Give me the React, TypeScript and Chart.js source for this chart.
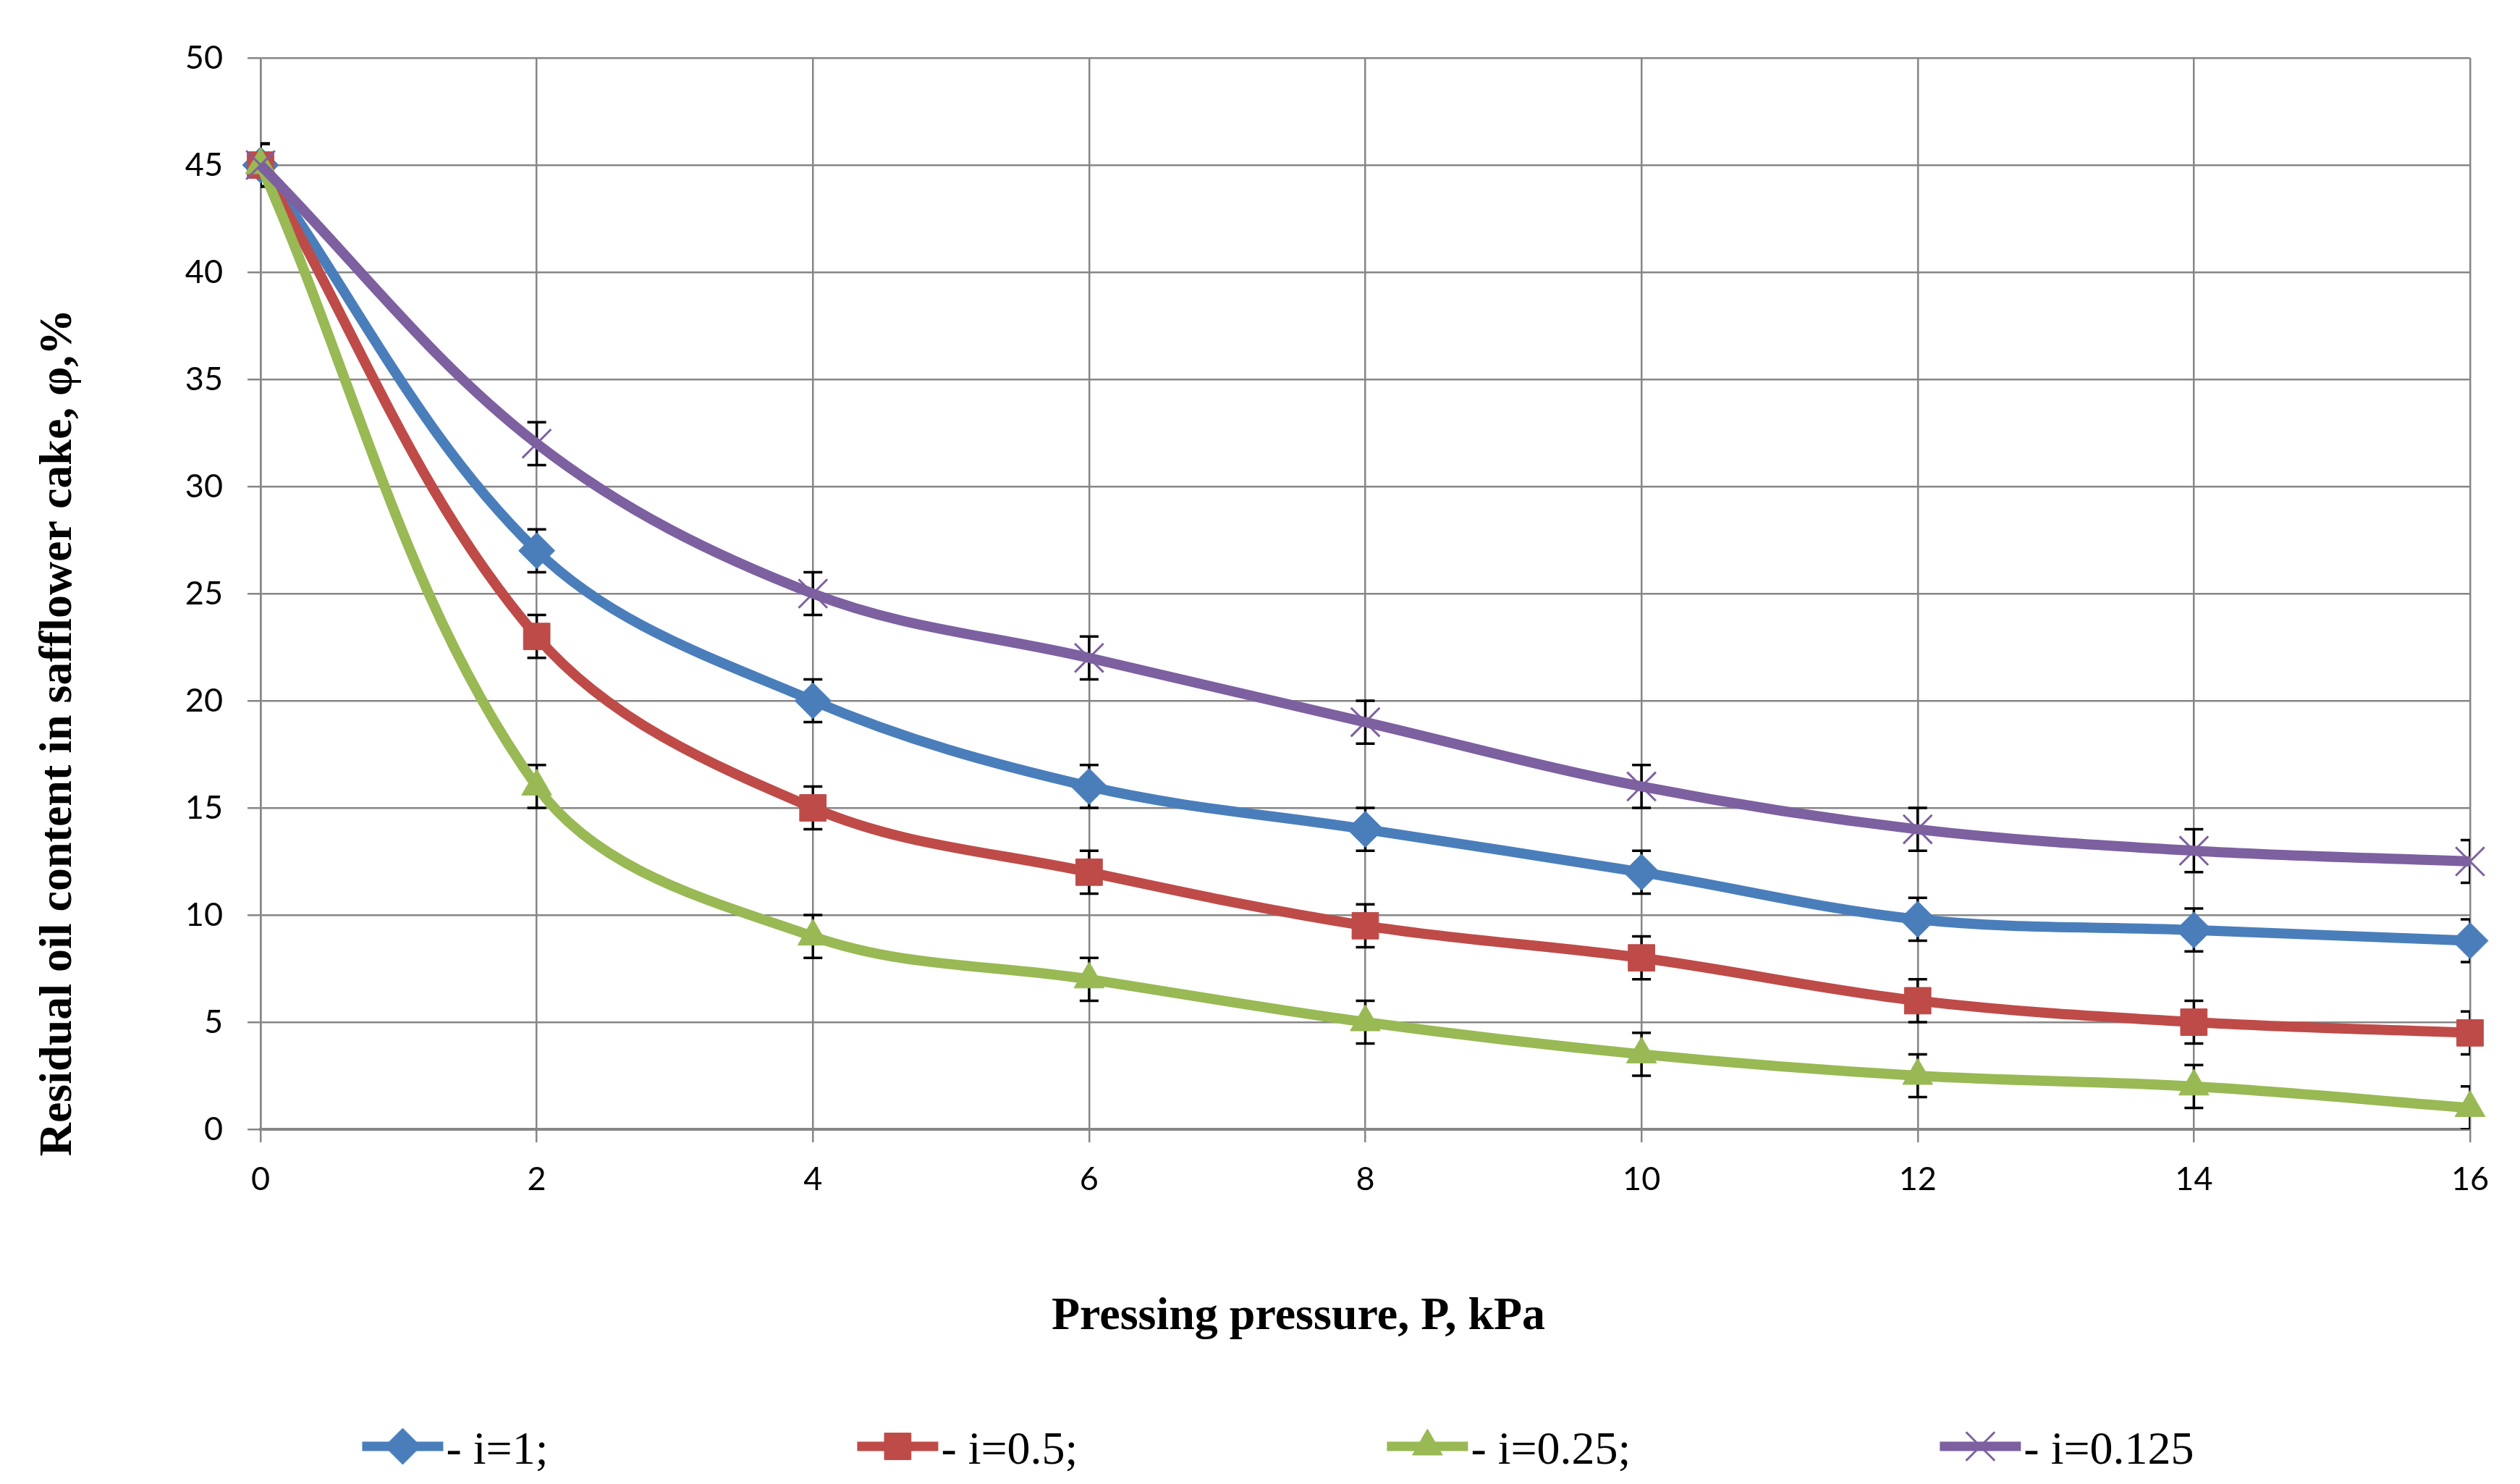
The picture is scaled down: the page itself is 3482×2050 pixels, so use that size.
import React, { useEffect, useRef } from 'react';
import { Chart, registerables } from 'chart.js';
import { drawPoint } from 'chart.js/helpers';

Chart.register(...registerables);

// pressing pressure, kPa
const pressure = [0, 2, 4, 6, 8, 10, 12, 14, 16];

// residual oil content, %
const oilI1 = [45, 27, 20, 16, 14, 12, 9.8, 9.3, 8.8];
const oilI05 = [45, 23, 15, 12, 9.5, 8, 6, 5, 4.5];
const oilI025 = [45, 16, 9, 7, 5, 3.5, 2.5, 2, 1];
const oilI0125 = [45, 32, 25, 22, 19, 16, 14, 13, 12.5];

// error bar half-widths
const errI1 = [1, 1, 1, 1, 1, 1, 1, 1, 1];
const errI05 = [1, 1, 1, 1, 1, 1, 1, 1, 1];
const errI025 = [1, 1, 1, 1, 1, 1, 1, 1, 1];
const errI0125 = [1, 1, 1, 1, 1, 1, 1, 1, 1];

const seriesLabels = ['- i=1;', '- i=0.5;', '- i=0.25;', '- i=0.125'];
const seriesValues = [oilI1, oilI05, oilI025, oilI0125];
const seriesErrors = [errI1, errI05, errI025, errI0125];
const seriesColors = ['#4A7EBB', '#BE4B48', '#98B954', '#7D60A0'];
const seriesMarkers = ['rectRot', 'rect', 'triangle', 'crossRot'];
const markerRadius = [25, 26, 24, 28];

const xTickValues = [0, 2, 4, 6, 8, 10, 12, 14, 16];
const yTickValues = [0, 5, 10, 15, 20, 25, 30, 35, 40, 45, 50];

const xTitle = 'Pressing pressure, P, kPa';
const yTitle = 'Residual oil content in safflower cake, \u03c6,%';

const GRID = '#868686';
const SERIF = '"Liberation Serif", "Times New Roman", serif';
const TICK_FONT = 'Lato, "Liberation Sans", sans-serif';

const errorBars = {
    id: 'errorBars',
    beforeDatasetsDraw(chart: any) {
        const { ctx, chartArea, scales } = chart;
        ctx.save();
        ctx.beginPath();
        ctx.rect(chartArea.left, chartArea.top, chartArea.right - chartArea.left, chartArea.bottom - chartArea.top);
        ctx.clip();
        ctx.strokeStyle = '#000';
        ctx.lineWidth = 3.5;
        seriesValues.forEach((vals, i) => {
            vals.forEach((v, j) => {
                const e = seriesErrors[i][j];
                const x = scales.x.getPixelForValue(pressure[j]);
                const yTop = scales.y.getPixelForValue(v + e);
                const yBot = scales.y.getPixelForValue(v - e);
                ctx.beginPath();
                ctx.moveTo(x, yTop);
                ctx.lineTo(x, yBot);
                ctx.moveTo(x - 13, yTop);
                ctx.lineTo(x + 13, yTop);
                ctx.moveTo(x - 13, yBot);
                ctx.lineTo(x + 13, yBot);
                ctx.stroke();
            });
        });
        ctx.restore();
    }
};

const titlesAndLegend = {
    id: 'titlesAndLegend',
    afterDraw(chart: any) {
        const { ctx } = chart;
        ctx.save();
        ctx.fillStyle = '#000';
        ctx.font = 'bold 64px ' + SERIF;
        ctx.textAlign = 'center';
        ctx.textBaseline = 'alphabetic';
        ctx.fillText(xTitle, 1794, 1836);

        ctx.save();
        ctx.translate(98, 1012);
        ctx.rotate(-Math.PI / 2);
        ctx.fillText(yTitle, 0, 0);
        ctx.restore();

        // legend: line + marker, then text
        ctx.font = '64px ' + SERIF;
        ctx.textAlign = 'left';
        const lineLen = 112;
        const gap = 427;
        const widths = seriesLabels.map(l => lineLen + 4 + ctx.measureText(l).width);
        const total = widths.reduce((a, b) => a + b, 0) + gap * (widths.length - 1);
        let x = 1766 - total / 2;
        const ly = 1998;
        seriesLabels.forEach((label, i) => {
            ctx.strokeStyle = seriesColors[i];
            ctx.fillStyle = seriesColors[i];
            ctx.lineWidth = 13;
            ctx.beginPath();
            ctx.moveTo(x, ly);
            ctx.lineTo(x + lineLen, ly);
            ctx.stroke();
            const isCross = seriesMarkers[i] === 'crossRot';
            ctx.lineWidth = isCross ? 3 : 1;
            drawPoint(ctx, { pointStyle: seriesMarkers[i], radius: markerRadius[i], rotation: 0, borderWidth: ctx.lineWidth } as any, x + lineLen / 2, ly);
            ctx.fillStyle = '#000';
            ctx.fillText(label, x + lineLen + 4, 2022);
            x += widths[i] + gap;
        });
        ctx.restore();
    }
};

const App = () => {
    const canvasRef = useRef<HTMLCanvasElement>(null);

    useEffect(() => {
        document.body.style.margin = '0';
        if (!canvasRef.current) return;
        const datasets = seriesValues.map((vals, i) => ({
            label: seriesLabels[i],
            data: vals.map((v, j) => ({ x: pressure[j], y: v })),
            borderColor: seriesColors[i],
            backgroundColor: seriesColors[i],
            borderWidth: 14,
            tension: 0.35,
            pointStyle: seriesMarkers[i],
            pointRadius: markerRadius[i],
            pointBackgroundColor: seriesColors[i],
            pointBorderColor: seriesColors[i],
            pointBorderWidth: seriesMarkers[i] === 'crossRot' ? 3 : 1,
            order: seriesValues.length - 1 - i,
            clip: false as any
        }));

        const chart = new Chart(canvasRef.current, {
            type: 'line',
            data: { datasets },
            plugins: [errorBars, titlesAndLegend],
            options: {
                responsive: false,
                devicePixelRatio: 1,
                animation: false,
                layout: { padding: { left: 0, top: 80, right: 69, bottom: 0 } },
                plugins: { legend: { display: false }, tooltip: { enabled: false } },
                scales: {
                    x: {
                        type: 'linear',
                        min: 0,
                        max: 16,
                        afterBuildTicks: (s: any) => { s.ticks = xTickValues.map(v => ({ value: v })); },
                        afterFit: (s: any) => { s.height = 490; },
                        ticks: { color: '#000', font: { family: TICK_FONT, size: 45 }, padding: 24, maxRotation: 0 },
                        grid: { color: GRID, lineWidth: 2.5, tickLength: 18 },
                        border: { color: GRID, width: 4 }
                    },
                    y: {
                        type: 'linear',
                        min: 0,
                        max: 50,
                        afterBuildTicks: (s: any) => { s.ticks = yTickValues.map(v => ({ value: v })); },
                        afterFit: (s: any) => { s.width = 360; },
                        ticks: { color: '#000', font: { family: TICK_FONT, size: 45 }, padding: 34 },
                        grid: { color: GRID, lineWidth: 2.5, tickLength: 18 },
                        border: { color: GRID, width: 2.5 }
                    }
                }
            }
        });

        return () => {
            chart.destroy();
        };
    }, []);

    return (
        <div style={{ width: 3482, height: 2050 }}>
            <canvas ref={canvasRef} width={3482} height={2050} style={{ display: 'block' }}></canvas>
        </div>
    );
};

export default App;
